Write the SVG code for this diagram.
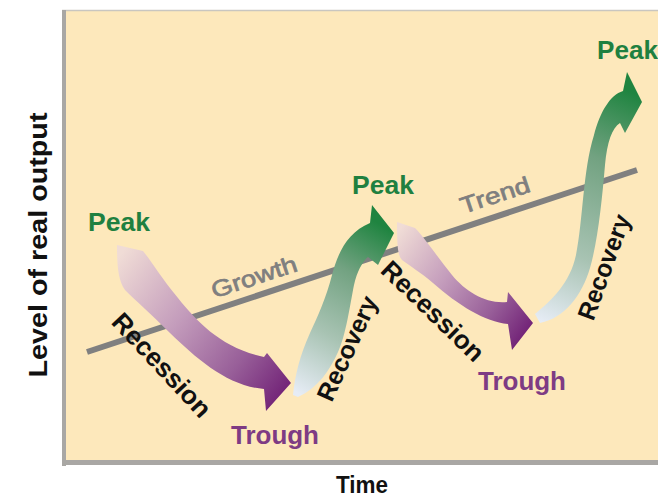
<svg xmlns="http://www.w3.org/2000/svg" width="658" height="499" viewBox="0 0 658 499">
<style>
  .lbl { font-family: "Liberation Sans", Arial, Helvetica, sans-serif; font-weight: bold; }
  .peak { fill: #1f8040; font-size: 26px; }
  .trough { fill: #7e3b84; font-size: 25px; }
  .phase { fill: #111; font-size: 26px; }
  .rec { fill: #111; font-size: 25px; }
  .trendtxt { font-family: "Liberation Sans", Arial, Helvetica, sans-serif; fill: #7f7f7f; stroke: #7f7f7f; stroke-width: 0.7px; font-size: 23px; }
  .axis { fill: #111; }
</style>
<defs>
  <linearGradient id="gRec1" gradientUnits="userSpaceOnUse" x1="118" y1="258" x2="288" y2="385">
    <stop offset="0" stop-color="#f0dcd6"/>
    <stop offset="0.4" stop-color="#c49dbc"/>
    <stop offset="0.75" stop-color="#985f99"/>
    <stop offset="1" stop-color="#742679"/>
  </linearGradient>
  <linearGradient id="gRec2" gradientUnits="userSpaceOnUse" x1="398" y1="232" x2="530" y2="325">
    <stop offset="0" stop-color="#f0dcd6"/>
    <stop offset="0.4" stop-color="#c49dbc"/>
    <stop offset="0.75" stop-color="#985f99"/>
    <stop offset="1" stop-color="#742679"/>
  </linearGradient>
  <linearGradient id="gRcv1" gradientUnits="userSpaceOnUse" x1="296" y1="392" x2="390" y2="230">
    <stop offset="0" stop-color="#e6ecf5"/>
    <stop offset="0.35" stop-color="#a8c3b3"/>
    <stop offset="0.7" stop-color="#72a281"/>
    <stop offset="1" stop-color="#1f8440"/>
  </linearGradient>
  <linearGradient id="gRcv2" gradientUnits="userSpaceOnUse" x1="538" y1="320" x2="638" y2="95">
    <stop offset="0" stop-color="#e6ecf5"/>
    <stop offset="0.3" stop-color="#a8c3b3"/>
    <stop offset="0.7" stop-color="#72a281"/>
    <stop offset="1" stop-color="#1f8440"/>
  </linearGradient>
</defs>

<rect x="0" y="0" width="658" height="499" fill="#ffffff"/>

<g id="panel">
  <rect x="64" y="10" width="600" height="451" fill="#fde8bb"/>
  <line x1="62" y1="10.5" x2="658" y2="10.5" stroke="#c9c6c0" stroke-width="1.5"/>
  <rect x="62" y="10" width="4" height="456" fill="#a9a7a4"/>
  <rect x="62" y="460" width="596" height="5" fill="#a9a7a4"/>
</g>

<g id="trend-line">
  <line x1="87" y1="352" x2="637" y2="170" stroke="#808080" stroke-width="6"/>
</g>

<g id="connectors">
  <path id="recession-arrow-1" fill="url(#gRec1)" d="M117,245 L143,251 C152,262 160,276 178,298 C198,323 222,348 264,357 L267,353 L291,383 L266,411 L264,389 C228,386 198,360 170,333 C150,313 137,302 125,290 C118,280 117,265 117,245 Z"/>
  <path id="recovery-arrow-1" fill="url(#gRcv1)" d="M293,395 C295,375 300,355 310,333 C318,316 326,298 332,275 C338,252 348,232 370,223 L372,205 L394,233 L378,265 L368,257 C362,262 357,272 354,285 C350,305 346,335 338,352 C330,370 318,388 298,397 Z"/>
  <path id="recession-arrow-2" fill="url(#gRec2)" d="M397,222 L415,228 C425,238 438,258 452,275 C466,292 486,304 507,302 L508,292 L533,323 L512,350 L508,324 C485,322 458,305 433,283 C420,272 410,266 402,260 C397,255 397,240 397,222 Z"/>
  <path id="recovery-arrow-2" fill="url(#gRcv2)" d="M535,314 C552,300 570,283 576,255 C583,220 583,170 594,135 C600,112 610,95 623,91 L627,72 L642,102 L625,133 L620,123 C612,128 607,142 605,165 C602,200 598,240 590,268 C582,295 565,318 540,323 Z"/>
</g>

<g id="trend-labels">
  <text class="trendtxt" x="256.5" y="284.6" text-anchor="middle" textLength="89" lengthAdjust="spacingAndGlyphs" transform="rotate(-18.3 256.5 284.6)">Growth</text>
  <text class="trendtxt" x="497.5" y="202.6" text-anchor="middle" textLength="72" lengthAdjust="spacingAndGlyphs" transform="rotate(-18.3 497.5 202.6)">Trend</text>
</g>

<g id="peak-1"><text class="lbl peak" x="88" y="231" textLength="62" lengthAdjust="spacingAndGlyphs">Peak</text></g>
<g id="recession-1"><text class="lbl phase" x="155.3" y="371.2" text-anchor="middle" textLength="132" lengthAdjust="spacingAndGlyphs" transform="rotate(47 155.3 371.2)">Recession</text></g>
<g id="trough-1"><text class="lbl trough" x="231" y="444" textLength="88" lengthAdjust="spacingAndGlyphs">Trough</text></g>
<g id="recovery-1"><text class="lbl rec" x="355" y="352" text-anchor="middle" textLength="112" lengthAdjust="spacingAndGlyphs" transform="rotate(-65.6 355 352)">Recovery</text></g>
<g id="peak-2"><text class="lbl peak" x="352" y="194" textLength="62" lengthAdjust="spacingAndGlyphs">Peak</text></g>
<g id="recession-2"><text class="lbl phase" x="426.7" y="317.5" text-anchor="middle" textLength="132" lengthAdjust="spacingAndGlyphs" transform="rotate(44 426.7 317.5)">Recession</text></g>
<g id="trough-2"><text class="lbl trough" x="478" y="390" textLength="88" lengthAdjust="spacingAndGlyphs">Trough</text></g>
<g id="recovery-2"><text class="lbl rec" x="612" y="270" text-anchor="middle" textLength="110" lengthAdjust="spacingAndGlyphs" transform="rotate(-70 612 270)">Recovery</text></g>
<g id="peak-3"><text class="lbl peak" x="597" y="59" textLength="61" lengthAdjust="spacingAndGlyphs">Peak</text></g>

<g id="y-axis-label"><text class="lbl axis" font-size="26" x="0" y="0" text-anchor="middle" textLength="265" lengthAdjust="spacingAndGlyphs" transform="translate(47 245) rotate(-90)">Level of real output</text></g>
<g id="x-axis-label"><text class="lbl axis" font-size="23" x="362" y="493" text-anchor="middle" textLength="52" lengthAdjust="spacingAndGlyphs">Time</text></g>
</svg>
